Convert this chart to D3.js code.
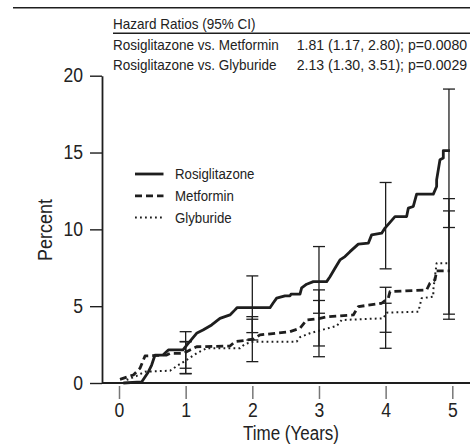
<!DOCTYPE html>
<html>
<head>
<meta charset="utf-8">
<script src="https://cdn.jsdelivr.net/npm/d3@7"></script>
<style>
  body { margin: 0; background: #fff; }
  svg text { font-family: "Liberation Sans", Arial, sans-serif; fill: #222; }
</style>
</head>
<body>
<svg id="chart" width="470" height="447"></svg>
<script>
// Kaplan-Meier style cumulative incidence
const seriesNames = ['Rosiglitazone', 'Metformin', 'Glyburide']

const rosiTime = [0.065, 0.34, 0.44, 0.49, 0.54, 0.66, 0.74, 0.96, 1.02, 1.17, 1.26, 1.39, 1.515, 1.665, 1.74, 1.77, 2.265, 2.31, 2.365, 2.49, 2.565, 2.58, 2.715, 2.74, 2.815, 2.915, 3.115, 3.165, 3.24, 3.315, 3.39, 3.465, 3.59, 3.74, 3.79, 3.94, 3.99, 4.14, 4.315, 4.34, 4.415, 4.465, 4.715, 4.765, 4.765, 4.815, 4.865, 4.865, 4.965]
const rosiPct = [0, 0.07, 0.72, 1.17, 1.82, 1.82, 2.15, 2.15, 2.48, 3.26, 3.45, 3.78, 4.21, 4.43, 4.76, 4.9, 4.9, 5.19, 5.52, 5.67, 5.67, 5.78, 5.78, 6.19, 6.43, 6.6, 6.6, 6.92, 7.47, 8.01, 8.23, 8.55, 9.04, 9.1, 9.64, 9.75, 10.08, 10.83, 10.83, 11.38, 11.49, 12.29, 12.29, 12.79, 13.22, 14.53, 14.64, 15.13, 15.13]

const metTime = [0.015, 0.215, 0.315, 0.39, 0.715, 0.765, 0.965, 1.065, 1.165, 1.665, 1.74, 2.015, 2.115, 2.565, 2.715, 2.815, 3.015, 3.14, 3.515, 3.59, 3.94, 4.04, 4.065, 4.615, 4.665, 4.74, 4.765, 4.965]
const metPct = [0.24, 0.52, 0.96, 1.76, 1.82, 1.93, 1.93, 2.15, 2.36, 2.41, 2.69, 2.85, 3.13, 3.34, 3.56, 4.1, 4.21, 4.32, 4.43, 4.97, 5.19, 5.52, 5.95, 6.06, 6.5, 6.71, 7.3, 7.3]

const glyTime = [0.115, 0.265, 0.39, 0.765, 0.89, 1.015, 1.165, 1.315, 1.815, 1.89, 2.015, 2.665, 2.715, 2.865, 3.04, 3.265, 3.34, 3.965, 4.015, 4.49, 4.54, 4.715, 4.715, 4.765, 4.965]
const glyPct = [0.2, 0.46, 0.74, 0.8, 1.17, 1.5, 1.93, 2.26, 2.26, 2.54, 2.69, 2.69, 2.98, 3.24, 3.45, 3.71, 4.1, 4.21, 4.58, 4.64, 5.52, 5.62, 6.06, 7.8, 7.8]

// 95% CI bars at yearly marks
const ciYears = [1, 2, 3, 4, 4.95]
const rosiLo = [0.96, 3.28, 4.54, 7.43, 10.12]
const rosiHi = [3.34, 6.97, 8.88, 13.05, 19.13]
const metLo = [0.6, 1.39, 2.41, 3.30, 4.48]
const metHi = [2.7, 4.32, 6.06, 6.23, 11.2]
const glyLo = [0.62, 2.80, 1.71, 2.26, 4.15]
const glyHi = [2.68, 4.15, 5.37, 5.19, 12.0]

const xTicks = [0, 1, 2, 3, 4, 5]
const yTicks = [0, 5, 10, 15, 20]

const hrTitle = 'Hazard Ratios (95% CI)'
const hrLabels = ['Rosiglitazone vs. Metformin', 'Rosiglitazone vs. Glyburide']
const hrValues = ['1.81 (1.17, 2.80); p=0.0080', '2.13 (1.30, 3.51); p=0.0029']

const ink = '#1e1e1e'
const svg = d3.select('#chart')

const x = d3.scaleLinear().domain([0, 5]).range([119, 452.3])
const y = d3.scaleLinear().domain([0, 20]).range([383, 75.7])

// the original uses a condensed face; squeeze regular glyphs to match
function narrow(sel, f) {
  sel.each(function() {
    const w = this.getComputedTextLength()
    d3.select(this).attr('textLength', w * f).attr('lengthAdjust', 'spacingAndGlyphs')
  })
}

// header table
svg.append('line').attr('x1', 13).attr('x2', 470).attr('y1', 7.7).attr('y2', 7.7)
    .attr('stroke', ink).attr('stroke-width', 1.6)
svg.append('text').attr('x', 113).attr('y', 29.3).attr('font-size', 15).text(hrTitle)
    .call(narrow, 0.9)
svg.append('line').attr('x1', 113).attr('x2', 470).attr('y1', 33.3).attr('y2', 33.3)
    .attr('stroke', ink).attr('stroke-width', 1.4)
hrLabels.forEach((d, i) => {
  svg.append('text').attr('x', 113).attr('y', 49.8 + i * 19.8).attr('font-size', 15).text(d)
      .call(narrow, 0.9)
  svg.append('text').attr('x', 296.7).attr('y', 49.8 + i * 19.8).attr('font-size', 14.1)
      .text(hrValues[i])
})

// y axis
const yAxis = svg.append('g')
    .attr('transform', 'translate(102,0)')
    .call(d3.axisLeft(y).tickValues(yTicks).tickSize(12).tickSizeOuter(0).tickPadding(7))
yAxis.select('.domain').attr('stroke', ink).attr('stroke-width', 1.8)
yAxis.selectAll('.tick line').attr('stroke', ink).attr('stroke-width', 1.4)
yAxis.selectAll('.tick text').attr('font-size', 19.5).attr('font-family', null).attr('fill', ink)
    .call(narrow, 0.9)

svg.append('text')
    .attr('transform', 'translate(52,230) rotate(-90)')
    .attr('text-anchor', 'middle')
    .attr('font-size', 20)
    .text('Percent')
    .call(narrow, 0.9)

// x axis: baseline plus detached ticks
svg.append('line').attr('x1', 102).attr('x2', 470).attr('y1', 383).attr('y2', 383)
    .attr('stroke', ink).attr('stroke-width', 1.8)
const xAxis = svg.append('g')
    .attr('transform', 'translate(0,386)')
    .call(d3.axisBottom(x).tickValues(xTicks).tickFormat(d3.format('d')).tickSize(13).tickPadding(4))
xAxis.select('.domain').remove()
xAxis.selectAll('.tick line').attr('stroke', '#777').attr('stroke-width', 1.5)
xAxis.selectAll('.tick text').attr('font-size', 19.5).attr('font-family', null).attr('fill', ink)
    .call(narrow, 0.9)

svg.append('text')
    .attr('x', 291).attr('y', 440)
    .attr('text-anchor', 'middle')
    .attr('font-size', 20)
    .text('Time (Years)')
    .call(narrow, 0.85)

// curves
const styles = [
  { w: 2.8, dash: null },
  { w: 2.8, dash: '7,4' },
  { w: 2, dash: '1.8,3.2' },
]
const curves = [
  d3.zip(rosiTime, rosiPct),
  d3.zip(metTime, metPct),
  d3.zip(glyTime, glyPct),
]
const line = d3.line().x(d => x(d[0])).y(d => y(d[1]))
svg.append('g').selectAll('path').data(curves).join('path')
    .attr('d', line)
    .attr('fill', 'none')
    .attr('stroke', ink)
    .attr('stroke-width', (d, i) => styles[i].w)
    .attr('stroke-dasharray', (d, i) => styles[i].dash)
    .attr('stroke-linejoin', 'round')

// error bars
const cis = [[rosiLo, rosiHi], [metLo, metHi], [glyLo, glyHi]]
const eg = svg.append('g').attr('stroke', ink).attr('stroke-width', 1.3)
const cap = 6
cis.forEach(([lo, hi]) => {
  ciYears.forEach((t, j) => {
    eg.append('line').attr('x1', x(t)).attr('x2', x(t)).attr('y1', y(lo[j])).attr('y2', y(hi[j]))
    eg.append('line').attr('x1', x(t) - cap).attr('x2', x(t) + cap).attr('y1', y(lo[j])).attr('y2', y(lo[j]))
    eg.append('line').attr('x1', x(t) - cap).attr('x2', x(t) + cap).attr('y1', y(hi[j])).attr('y2', y(hi[j]))
  })
})

// legend
const legend = svg.append('g')
seriesNames.forEach((name, i) => {
  const ly = 174 + i * 21.8
  legend.append('line').attr('x1', 135).attr('x2', 163.5).attr('y1', ly).attr('y2', ly)
      .attr('stroke', ink)
      .attr('stroke-width', styles[i].w)
      .attr('stroke-dasharray', styles[i].dash)
  legend.append('text').attr('x', 175).attr('y', ly).attr('dy', '0.35em')
      .attr('font-size', 15.4).text(name)
      .call(narrow, 0.86)
})
</script>
</body>
</html>
